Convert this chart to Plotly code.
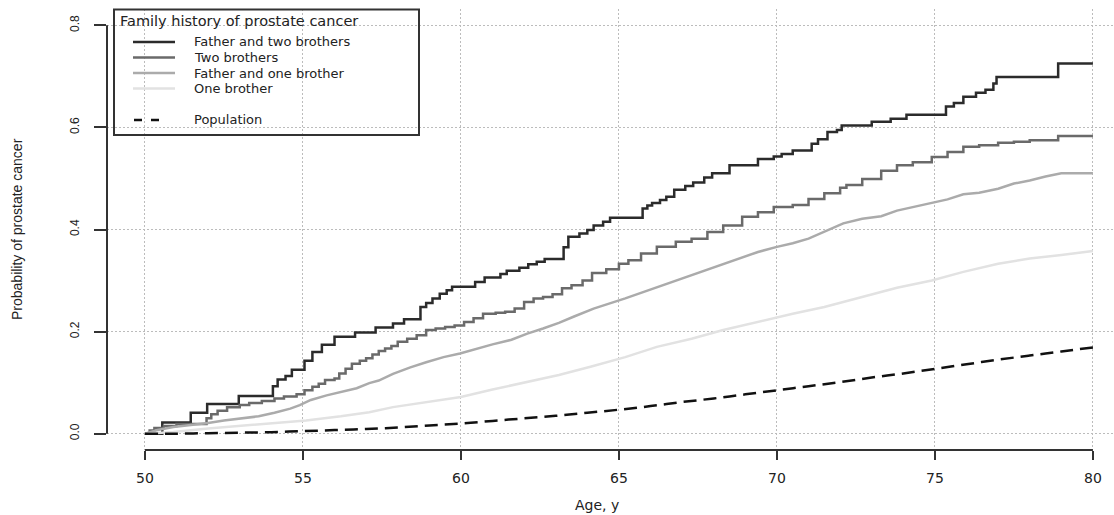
import plotly.graph_objects as go

# Cumulative probability of prostate cancer by age, by family history.
# Step curves (1 - Kaplan-Meier) for the two strongest histories.
age_father_two_brothers = [
    50.0, 50.55, 51.45, 51.97, 52.97, 54.05, 54.2, 54.45, 54.65, 55.05, 55.3, 55.6,
    56.0, 56.65, 57.3, 57.85, 58.2, 58.72, 58.9, 59.1, 59.33, 59.55, 59.72, 60.45,
    60.75, 61.25, 61.45, 61.85, 62.13, 62.4, 62.65, 63.25, 63.4, 63.75, 64.0, 64.2,
    64.5, 64.72, 65.75, 65.9, 66.05, 66.3, 66.5, 66.75, 67.1, 67.35, 67.7, 67.95,
    68.5, 69.4, 69.9, 70.15, 70.5, 71.1, 71.3, 71.6, 71.9, 72.05, 73.0, 73.6, 74.1,
    75.35, 75.6, 75.9, 76.3, 76.6, 76.85, 76.95, 78.9, 80.0,
]
prob_father_two_brothers = [
    0.0, 0.022, 0.041, 0.058, 0.074, 0.093, 0.106, 0.113, 0.125, 0.143, 0.160, 0.174,
    0.190, 0.198, 0.208, 0.216, 0.224, 0.248, 0.256, 0.265, 0.274, 0.281, 0.288, 0.297,
    0.306, 0.313, 0.319, 0.325, 0.332, 0.337, 0.342, 0.365, 0.386, 0.392, 0.399, 0.408,
    0.415, 0.423, 0.441, 0.447, 0.452, 0.458, 0.464, 0.478, 0.485, 0.492, 0.502, 0.510,
    0.526, 0.538, 0.543, 0.548, 0.555, 0.568, 0.577, 0.591, 0.595, 0.604, 0.611, 0.617,
    0.625, 0.641, 0.648, 0.660, 0.668, 0.674, 0.686, 0.699, 0.725, 0.725,
]

age_two_brothers = [
    50.0, 50.15, 50.3, 50.6, 51.0, 51.95, 52.1, 52.3, 52.6, 53.0, 53.3, 53.7, 54.1,
    54.4, 54.8, 55.05, 55.3, 55.5, 55.7, 56.0, 56.15, 56.35, 56.55, 56.8, 57.0, 57.2,
    57.4, 57.6, 57.8, 58.0, 58.3, 58.6, 58.9, 59.2, 59.5, 59.8, 60.1, 60.4, 60.7,
    61.1, 61.4, 61.7, 62.0, 62.3, 62.6, 62.9, 63.2, 63.5, 63.85, 64.15, 64.6, 65.0,
    65.3, 65.7, 66.2, 66.8, 67.3, 67.8, 68.3, 68.9, 69.4, 69.9, 70.5, 71.0, 71.5,
    72.0, 72.2, 72.7, 73.3, 73.8, 74.3, 74.9, 75.4, 75.9, 76.4, 77.0, 77.5, 78.0,
    78.9, 80.0,
]
prob_two_brothers = [
    0.0, 0.006, 0.011, 0.015, 0.019, 0.030, 0.038, 0.045, 0.052, 0.056, 0.060, 0.064,
    0.069, 0.073, 0.077, 0.085, 0.092, 0.098, 0.105, 0.108, 0.118, 0.127, 0.137,
    0.143, 0.148, 0.155, 0.162, 0.167, 0.172, 0.180, 0.186, 0.193, 0.203, 0.206,
    0.209, 0.212, 0.219, 0.226, 0.235, 0.237, 0.239, 0.245, 0.258, 0.265, 0.268,
    0.273, 0.285, 0.291, 0.300, 0.315, 0.322, 0.333, 0.340, 0.353, 0.366, 0.376,
    0.382, 0.395, 0.408, 0.425, 0.434, 0.444, 0.448, 0.460, 0.471, 0.482, 0.487,
    0.499, 0.515, 0.526, 0.532, 0.542, 0.552, 0.562, 0.565, 0.570, 0.572, 0.575,
    0.583, 0.583,
]

age_father_one_brother = [
    50.0, 50.4, 50.9, 51.5, 52.0, 52.5, 53.0, 53.6, 54.1, 54.6, 54.9, 55.25, 55.75,
    56.2, 56.7, 57.1, 57.4, 57.85, 58.4, 58.9, 59.45, 59.97, 60.5, 61.0, 61.6, 62.1,
    62.6, 63.1, 63.6, 64.2, 65.2, 66.2, 67.3, 68.3, 69.4, 70.0, 70.5, 71.0, 71.5,
    72.1, 72.7, 73.3, 73.8, 74.3, 74.9, 75.4, 75.9, 76.4, 77.0, 77.5, 78.0, 78.5,
    79.0, 80.0,
]
prob_father_one_brother = [
    0.0, 0.007, 0.013, 0.017, 0.021, 0.026, 0.030, 0.034, 0.041, 0.049, 0.056, 0.066,
    0.075, 0.082, 0.089, 0.099, 0.104, 0.117, 0.130, 0.140, 0.150, 0.157, 0.167,
    0.175, 0.184, 0.196, 0.206, 0.217, 0.230, 0.245, 0.265, 0.287, 0.310, 0.333,
    0.356, 0.366, 0.373, 0.382, 0.395, 0.412, 0.421, 0.426, 0.437, 0.444, 0.451,
    0.459, 0.469, 0.472, 0.480, 0.490, 0.496, 0.504, 0.510, 0.510,
]

age_one_brother = [
    50.0, 50.9, 52.0, 53.0, 54.1, 55.1, 56.2, 57.1, 57.85, 58.9, 60.0, 61.0, 62.1,
    63.1, 64.1, 65.2, 66.2, 67.3, 68.3, 69.4, 70.5, 71.5, 72.7, 73.8, 74.9, 75.9,
    77.0, 78.0, 79.0, 80.0,
]
prob_one_brother = [
    0.0, 0.0035, 0.010, 0.015, 0.020, 0.026, 0.034, 0.042, 0.052, 0.062, 0.072,
    0.0865, 0.1015, 0.115, 0.131, 0.150, 0.170, 0.186, 0.203, 0.219, 0.235, 0.248,
    0.268, 0.286, 0.300, 0.317, 0.333, 0.343, 0.350, 0.358,
]

age_population = list(range(50, 81))
prob_population = [
    0.000, 0.000, 0.001, 0.002, 0.003, 0.005, 0.007, 0.009, 0.012, 0.016, 0.020,
    0.025, 0.030, 0.035, 0.041, 0.047, 0.054, 0.062, 0.069, 0.077, 0.085, 0.093,
    0.101, 0.110, 0.118, 0.127, 0.136, 0.145, 0.153, 0.161, 0.169,
]

series_names = ["Father and two brothers", "Two brothers",
                "Father and one brother", "One brother", "Population"]
series_colors = ["#2b2b2b", "#6a6a6a", "#ababab", "#e2e2e2", "#111111"]

x_ticks = [50, 55, 60, 65, 70, 75, 80]
y_ticks = [0.0, 0.2, 0.4, 0.6, 0.8]
y_tick_text = ["0.0", "0.2", "0.4", "0.6", "0.8"]

AXIS_COLOR = "#333333"
TEXT_COLOR = "#222222"
GRID_COLOR = "#bcbcbc"
GRID_DASH = "1.5px,2.5px"
H_FONT = "DejaVu Sans"
V_FONT = "Liberation Sans"

fig = go.Figure()

curves = [
    (age_father_two_brothers, prob_father_two_brothers, "hv", "solid"),
    (age_two_brothers, prob_two_brothers, "hv", "solid"),
    (age_father_one_brother, prob_father_one_brother, "linear", "solid"),
    (age_one_brother, prob_one_brother, "linear", "solid"),
    (age_population, prob_population, "spline", "13px,7px"),
]
for (ages, probs, shape, dash), name, color in zip(curves, series_names, series_colors):
    fig.add_trace(go.Scatter(
        x=ages, y=probs, mode="lines", name=name, showlegend=False,
        line=dict(color=color, width=2.5, shape=shape, dash=dash),
        hoverinfo="skip",
    ))

# plot-area geometry in pixels, used to place the hand-built legend and titles
W, H = 1114, 515
M_L, M_R, M_T, M_B = 107, 0, 9, 65
PW, PH = W - M_L - M_R, H - M_T - M_B


def px(x):
    return (x - M_L) / PW


def py(y):
    return (M_T + PH - y) / PH


shapes = [
    # axis lines running only from the first to the last tick
    dict(type="line", xref="paper", yref="y", x0=0, x1=0,
         y0=y_ticks[0], y1=y_ticks[-1], line=dict(color=AXIS_COLOR, width=2)),
    dict(type="line", xref="x", yref="paper", x0=x_ticks[0], x1=x_ticks[-1],
         y0=0, y1=0, line=dict(color=AXIS_COLOR, width=2)),
    # legend frame (transparent, grid shows through)
    dict(type="rect", xref="paper", yref="paper", x0=px(114), x1=px(419),
         y0=py(135), y1=py(9.5), line=dict(color=AXIS_COLOR, width=2),
         fillcolor="rgba(0,0,0,0)"),
]

annotations = [
    dict(text="Family history of prostate cancer", xref="paper", yref="paper",
         x=px(118), y=py(21), xanchor="left", yanchor="middle", showarrow=False,
         font=dict(family=H_FONT, size=14.5, color=TEXT_COLOR)),
]
legend_rows = [42, 57.5, 73, 88.5, 120]
# sample segments: solid keys are long, the dashed key shows two short dashes
legend_keys = [(133, 175, "solid"), (133, 175, "solid"), (133, 175, "solid"),
               (133, 175, "solid"), (134, 159, "8px,9px")]
for name, color, row, (k0, k1, kdash) in zip(series_names, series_colors,
                                              legend_rows, legend_keys):
    shapes.append(dict(type="line", xref="paper", yref="paper",
                       x0=px(k0), x1=px(k1), y0=py(row), y1=py(row),
                       line=dict(color=color, width=2.5, dash=kdash)))
    annotations.append(dict(text=name, xref="paper", yref="paper",
                            x=px(192), y=py(row), xanchor="left", yanchor="middle",
                            showarrow=False,
                            font=dict(family=H_FONT, size=13, color=TEXT_COLOR)))

# axis titles
annotations.append(dict(text="Age, y", xref="paper", yref="paper",
                        x=px(597), y=py(505), xanchor="center", yanchor="middle",
                        showarrow=False,
                        font=dict(family=H_FONT, size=14, color=TEXT_COLOR)))
annotations.append(dict(text="Probability of prostate cancer", xref="paper", yref="paper",
                        x=px(17), y=py(229), xanchor="center", yanchor="middle",
                        textangle=-90, showarrow=False,
                        font=dict(family=V_FONT, size=14, color=TEXT_COLOR)))

fig.update_layout(
    width=W, height=H,
    margin=dict(l=M_L, r=M_R, t=M_T, b=M_B, pad=0),
    paper_bgcolor="white", plot_bgcolor="white",
    showlegend=False,
    shapes=shapes, annotations=annotations,
    xaxis=dict(
        range=[48.8, 48.8 + PW / 31.6], tickvals=x_ticks,
        ticks="outside", ticklen=9, tickwidth=2, tickcolor=AXIS_COLOR,
        showline=False, zeroline=False,
        showgrid=True, gridcolor=GRID_COLOR, gridwidth=1, griddash=GRID_DASH,
        tickfont=dict(family=H_FONT, size=14, color=TEXT_COLOR),
        ticklabelstandoff=6,
    ),
    yaxis=dict(
        range=[-0.032, 0.832], tickvals=y_ticks, ticktext=y_tick_text,
        tickangle=-90,
        ticks="outside", ticklen=12, tickwidth=2, tickcolor=AXIS_COLOR,
        showline=False, zeroline=False,
        showgrid=True, gridcolor=GRID_COLOR, gridwidth=1, griddash=GRID_DASH,
        tickfont=dict(family=V_FONT, size=12, color=TEXT_COLOR),
        ticklabelstandoff=10,
    ),
)

fig.write_html("out.html")
